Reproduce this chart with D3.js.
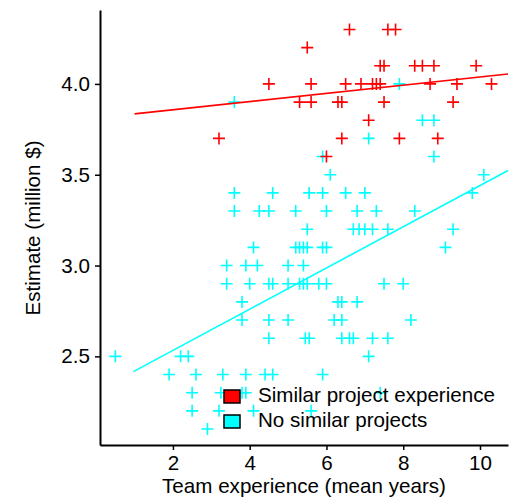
<!DOCTYPE html>
<html>
<script src="https://d3js.org/d3.v7.min.js"></script>
<style>
  body { margin: 0; background: #fff; }
  text { font-family: "Liberation Sans", Arial, sans-serif; }
</style>
<body>
<svg width=511 height=497></svg>
<script>
// teams with similar project experience
const similarX = [3.2, 4.5, 5.3, 5.6, 5.5, 5.6, 6.6, 7.6, 7.8, 7.4, 7.5, 8.3, 8.5, 8.8, 9.9,
                  6.5, 6.9, 7.2, 7.3, 7.4, 8.7, 9.4, 10.3, 6.3, 6.4, 7.5, 9.3, 7.1, 6.4, 7.9, 8.9, 6.0];
const similarY = [3.7, 4.0, 3.9, 3.9, 4.2, 4.0, 4.3, 4.3, 4.3, 4.1, 4.1, 4.1, 4.1, 4.1, 4.1,
                  4.0, 4.0, 4.0, 4.0, 4.0, 4.0, 4.0, 4.0, 3.9, 3.9, 3.9, 3.9, 3.8, 3.7, 3.7, 3.7, 3.6];

// teams with no similar projects
const noSimX = [3.6, 7.9, 8.5, 8.8, 7.1, 5.9, 8.8, 6.1, 10.1,
                3.6, 4.6, 5.55, 5.9, 6.5, 7.0, 9.8,
                3.6, 4.25, 4.5, 5.2, 6.0, 6.8, 7.3, 8.3,
                5.5, 6.7, 6.85, 7.0, 7.2, 7.6, 9.3,
                4.1, 5.2, 5.3, 5.4, 5.5, 5.9, 6.0, 9.1,
                3.4, 3.9, 4.2, 5.0, 5.4,
                3.4, 4.0, 4.5, 4.6, 5.0, 5.3, 5.4, 5.5, 5.8, 6.0, 7.5, 8.0,
                3.8, 6.3, 6.4, 6.8,
                3.8, 4.5, 5.0, 6.2, 6.4, 8.2,
                4.5, 5.45, 5.55, 6.4, 6.6, 6.7, 7.2, 7.6,
                0.5, 2.2, 2.4, 7.1,
                1.9, 2.6, 3.3, 3.9, 4.4, 4.6, 5.9,
                2.5, 3.25, 3.8, 3.9, 7.4,
                2.5, 3.2, 4.1, 5.6,
                2.9];
const noSimY = [3.9, 4.0, 3.8, 3.8, 3.7, 3.6, 3.6, 3.5, 3.5,
                3.4, 3.4, 3.4, 3.4, 3.4, 3.4, 3.4,
                3.3, 3.3, 3.3, 3.3, 3.3, 3.3, 3.3, 3.3,
                3.2, 3.2, 3.2, 3.2, 3.2, 3.2, 3.2,
                3.1, 3.1, 3.1, 3.1, 3.1, 3.1, 3.1, 3.1,
                3.0, 3.0, 3.0, 3.0, 3.0,
                2.9, 2.9, 2.9, 2.9, 2.9, 2.9, 2.9, 2.9, 2.9, 2.9, 2.9, 2.9,
                2.8, 2.8, 2.8, 2.8,
                2.7, 2.7, 2.7, 2.7, 2.7, 2.7,
                2.6, 2.6, 2.6, 2.6, 2.6, 2.6, 2.6, 2.6,
                2.5, 2.5, 2.5, 2.5,
                2.4, 2.4, 2.4, 2.4, 2.4, 2.4, 2.4,
                2.3, 2.3, 2.3, 2.3, 2.3,
                2.2, 2.2, 2.2, 2.2,
                2.1];

// fitted lines (end points)
const fitSimilar = [[1.0, 3.835], [10.73, 4.055]];
const fitNoSim = [[0.97, 2.416], [10.73, 3.523]];

const xTicks = [2, 4, 6, 8, 10];
const yTicks = [2.5, 3.0, 3.5, 4.0];
const legendLabels = ["Similar project experience", "No similar projects"];
const colors = ["red", "cyan"];

const svg = d3.select("svg");
const fontSize = "20.6px";

const x = d3.scaleLinear().domain([0.1, 10.73]).range([100, 508]);
const y = d3.scaleLinear().domain([2.012, 4.407]).range([445, 10]);

function drawCrosses(xs, ys, color) {
    const pts = xs.map((d, i) => [d, ys[i]]);
    const g = svg.append("g").attr("stroke", color).attr("stroke-width", 1.6);
    g.selectAll("path").data(pts).enter().append("path")
        .attr("d", d => {
            const cx = x(d[0]), cy = y(d[1]);
            return `M${cx - 6},${cy}H${cx + 6}M${cx},${cy - 6}V${cy + 6}`;
        });
}

drawCrosses(noSimX, noSimY, colors[1]);
drawCrosses(similarX, similarY, colors[0]);

const line = d3.line().x(d => x(d[0])).y(d => y(d[1]));
svg.append("path").datum(fitSimilar).attr("d", line)
    .attr("fill", "none").attr("stroke", colors[0]).attr("stroke-width", 1.6);
svg.append("path").datum(fitNoSim).attr("d", line)
    .attr("fill", "none").attr("stroke", colors[1]).attr("stroke-width", 1.6);

// axes
const xAxis = d3.axisBottom(x).tickValues(xTicks).tickSizeInner(5).tickSizeOuter(0).tickPadding(5);
const yAxis = d3.axisLeft(y).tickValues(yTicks).tickFormat(d3.format(".1f")).tickSizeInner(5).tickSizeOuter(0).tickPadding(5);

const gx = svg.append("g").attr("transform", "translate(0,445)").call(xAxis);
const gy = svg.append("g").attr("transform", "translate(100,0)").call(yAxis);
[gx, gy].forEach(g => {
    g.select(".domain").attr("stroke", "#000").attr("stroke-width", 2);
    g.selectAll(".tick line").attr("stroke", "#000").attr("stroke-width", 1.5);
    g.selectAll(".tick text").attr("fill", "#000").style("font-size", fontSize)
        .style("font-family", "'Liberation Sans', Arial, sans-serif");
});

svg.append("text").attr("x", 304).attr("y", 493).attr("text-anchor", "middle")
    .style("font-size", fontSize).text("Team experience (mean years)");
svg.append("text").attr("transform", "translate(40,228) rotate(-90)").attr("text-anchor", "middle")
    .style("font-size", fontSize).text("Estimate (million $)");

// legend
const leg = svg.append("g").attr("transform", "translate(224,390)");
legendLabels.forEach((lab, i) => {
    leg.append("rect").attr("x", 0).attr("y", i * 25).attr("width", 16).attr("height", 13)
        .attr("fill", colors[i]).attr("stroke", "#000").attr("stroke-width", 1.5);
    leg.append("text").attr("x", 34).attr("y", i * 25 + 12)
        .style("font-size", fontSize).text(lab);
});
</script>
</body>
</html>
